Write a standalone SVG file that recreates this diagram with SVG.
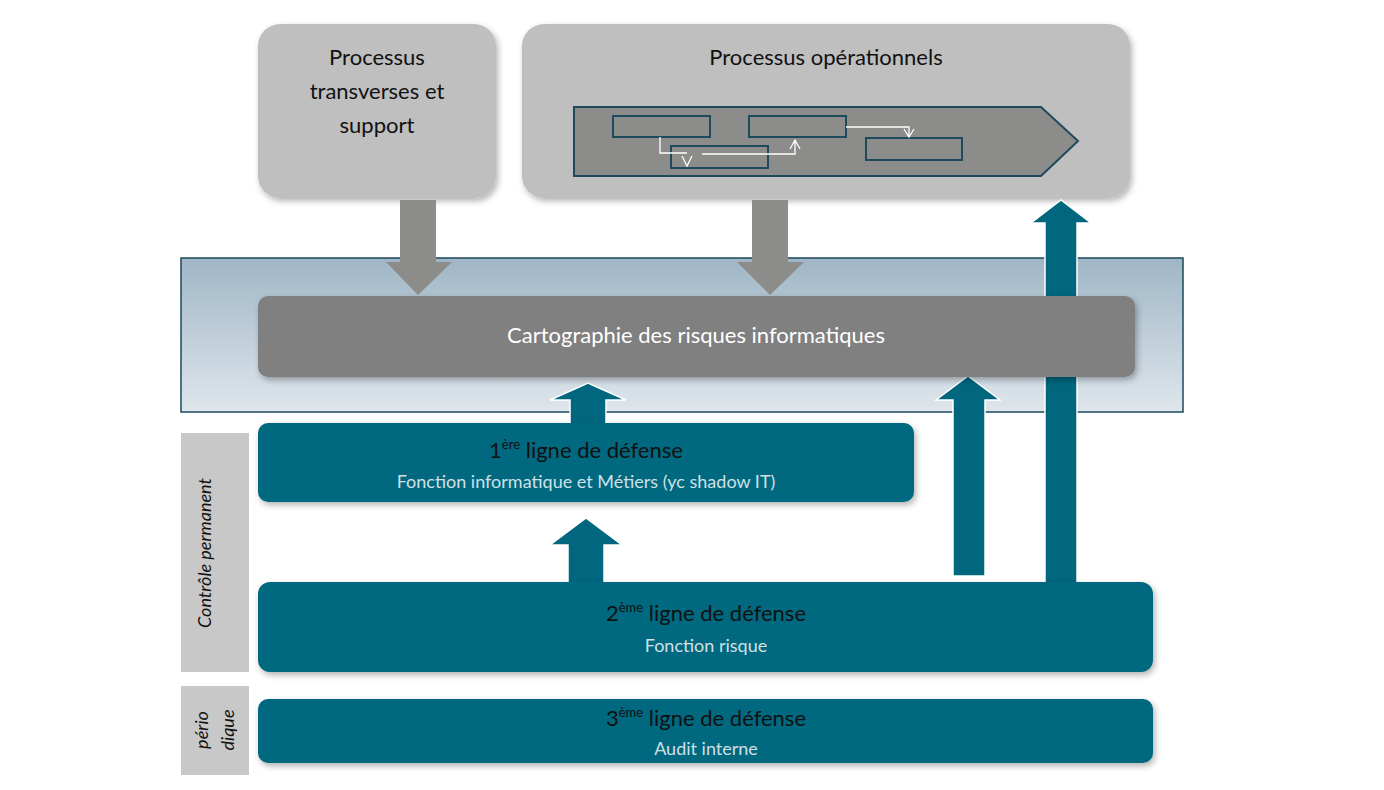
<svg xmlns="http://www.w3.org/2000/svg" width="1384" height="790" viewBox="0 0 1384 790">
<defs>
<linearGradient id="band" x1="0" y1="0" x2="0" y2="1"><stop offset="0" stop-color="#9fb6c6"/><stop offset="1" stop-color="#dfe6ec"/></linearGradient>
<filter id="sh" x="-5%" y="-10%" width="110%" height="130%"><feDropShadow dx="2" dy="3" stdDeviation="3" flood-color="#000" flood-opacity="0.3"/></filter>
<style>
.gray{fill:#bfbfbf;filter:url(#sh)}
.teal{fill:#00677f;filter:url(#sh)}
.ta{fill:#00677f;stroke:#fff;stroke-width:1.5}
.ga{fill:#8c8c8a}
.t{font-family:Lato,"Open Sans",sans-serif;text-anchor:middle}
.big{font-size:22px}
.sm{font-size:18px}
.w{fill:#fff}
.k{fill:#111}
.sb{fill:none;stroke:#1d4a5c;stroke-width:2}
.fl{fill:none;stroke:#fff;stroke-width:1.3}
</style>
</defs>
<rect width="1384" height="790" fill="#fff"/>
<g id="band-group"><rect x="181" y="258" width="1002" height="154" fill="url(#band)" stroke="#1d4a5c" stroke-width="1.5"/></g>
<g id="transverses"><rect class="gray" x="258" y="24" width="238" height="174" rx="22"/>
<text class="t big k" x="377" y="65">Processus</text><text class="t big k" x="377" y="99">transverses et</text><text class="t big k" x="377" y="133">support</text></g>
<g id="operationnels"><rect class="gray" x="522" y="24" width="608" height="174" rx="22"/>
<text class="t big k" x="826" y="65">Processus opérationnels</text>
<polygon points="574,107 1041,107 1078,141 1041,176 574,176" fill="#8c8c8a" stroke="#1d4a5c" stroke-width="2"/>
<rect class="sb" x="613" y="116" width="97" height="21"/><rect class="sb" x="749" y="116" width="97" height="21"/>
<rect class="sb" x="671" y="146" width="97" height="22"/><rect class="sb" x="866" y="138" width="96" height="22"/>
<path class="fl" d="M660,137 V153 H687 M682,156 L687,166 L692,156 M702,154 H795 V141 M790,149 L795,140 L800,149 M846,127 H909 V136 M904,129 L909,137 L914,129"/></g>
<g id="connectors">
<polygon class="ga" points="400,200 436,200 436,262 452,262 418,295 386,262 400,262"/>
<polygon class="ga" points="752,200 788,200 788,262 804,262 770,295 737,262 752,262"/>
<polygon class="ta" points="1045,583 1045,223 1031,223 1061,200 1091,223 1077,223 1077,583"/>
<polygon class="ta" points="953,576 953,400 936,400 968,376 1000,400 985,400 985,576"/>
<polygon class="ta" points="570,425 570,400 550,400 588,383 626,400 606,400 606,425"/>
<polygon class="ta" points="568,583 568,545 550,545 586,518 622,545 604,545 604,583"/>
</g>
<g id="cartographie"><rect x="258" y="296" width="877" height="81" rx="10" fill="#808080" filter="url(#sh)"/>
<text class="t big w" x="696" y="343">Cartographie des risques informatiques</text></g>
<g id="ligne1"><rect class="teal" x="258" y="423" width="656" height="79" rx="10"/>
<text class="t big k" x="586" y="458">1<tspan font-size="13" dy="-9">ère</tspan><tspan dy="9"> ligne de défense</tspan></text>
<text class="t sm" fill="#cfe0e6" x="586" y="488">Fonction informatique et Métiers (yc shadow IT)</text></g>
<g id="ligne2"><rect class="teal" x="258" y="582" width="895" height="90" rx="12"/>
<text class="t big k" x="706" y="621">2<tspan font-size="13" dy="-9">ème</tspan><tspan dy="9"> ligne de défense</tspan></text>
<text class="t sm" fill="#cfe0e6" x="706" y="652">Fonction risque</text></g>
<g id="ligne3"><rect class="teal" x="258" y="699" width="895" height="64" rx="10"/>
<text class="t big k" x="706" y="726">3<tspan font-size="13" dy="-9">ème</tspan><tspan dy="9"> ligne de défense</tspan></text>
<text class="t sm" fill="#cfe0e6" x="706" y="755">Audit interne</text></g>
<g id="controle"><rect x="181" y="433" width="68" height="239" fill="#c8c8c8"/>
<text class="t sm k" font-style="italic" transform="translate(211,553) rotate(-90)">Contrôle permanent</text></g>
<g id="periodique"><rect x="181" y="686" width="68" height="89" fill="#c8c8c8"/>
<text class="t sm k" font-style="italic" transform="translate(208,730) rotate(-90)">pério</text>
<text class="t sm k" font-style="italic" transform="translate(234,730) rotate(-90)">dique</text></g>
</svg>
